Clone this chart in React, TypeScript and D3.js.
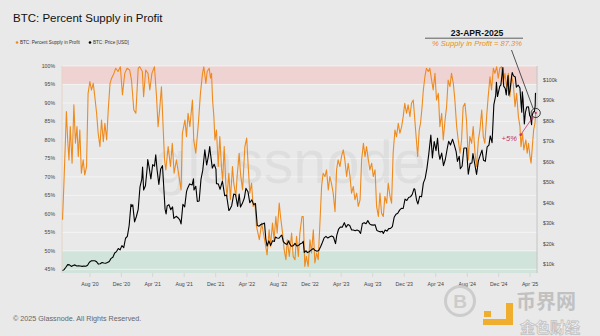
import React from 'react';
import * as d3 from 'd3';

// BTC: Percent Supply in Profit (%)
const supplyInProfit: [string, number][] = [
  ['2020-04-17', 58.4], ['2020-04-22', 67.4], ['2020-04-27', 77.3], ['2020-05-02', 87.7], ['2020-05-07', 80.0],
  ['2020-05-12', 74.6], ['2020-05-17', 83.6], ['2020-05-24', 73.7], ['2020-05-31', 89.5], ['2020-06-06', 79.1],
  ['2020-06-12', 83.6], ['2020-06-17', 75.5], ['2020-06-23', 82.7], ['2020-06-29', 71.0], ['2020-07-06', 74.6],
  ['2020-07-12', 70.5], ['2020-07-19', 72.8], ['2020-07-25', 92.6], ['2020-08-01', 95.8], ['2020-08-07', 93.5],
  ['2020-08-14', 95.3], ['2020-08-20', 91.7], ['2020-08-27', 87.2], ['2020-09-02', 81.8], ['2020-09-09', 78.2],
  ['2020-09-15', 85.4], ['2020-09-22', 79.5], ['2020-09-28', 84.5], ['2020-10-05', 80.0], ['2020-10-11', 88.1],
  ['2020-10-18', 95.3], ['2020-10-24', 96.7], ['2020-11-02', 98.0], ['2020-11-09', 99.4], ['2020-11-18', 98.5],
  ['2020-11-27', 99.8], ['2020-12-05', 92.2], ['2020-12-14', 98.0], ['2020-12-23', 99.4], ['2021-01-02', 98.9],
  ['2021-01-09', 96.2], ['2021-01-18', 88.1], ['2021-01-26', 87.2], ['2021-02-04', 99.4], ['2021-02-10', 99.8],
  ['2021-02-20', 98.5], ['2021-02-25', 91.7], ['2021-03-05', 98.9], ['2021-03-14', 98.0], ['2021-03-21', 93.5],
  ['2021-03-29', 98.0], ['2021-04-08', 99.8], ['2021-04-16', 91.7], ['2021-04-22', 83.6], ['2021-04-29', 89.0],
  ['2021-05-05', 94.4], ['2021-05-12', 82.7], ['2021-05-17', 74.6], ['2021-05-22', 71.9], ['2021-05-31', 78.2],
  ['2021-06-09', 72.8], ['2021-06-16', 79.1], ['2021-06-23', 71.0], ['2021-07-02', 74.6], ['2021-07-10', 71.0],
  ['2021-07-20', 66.5], ['2021-07-25', 81.8], ['2021-08-04', 85.4], ['2021-08-10', 80.9], ['2021-08-16', 87.2],
  ['2021-08-23', 83.6], ['2021-09-02', 90.8], ['2021-09-07', 80.0], ['2021-09-15', 76.4], ['2021-09-24', 83.6],
  ['2021-10-03', 92.6], ['2021-10-11', 98.0], ['2021-10-16', 99.8], ['2021-10-24', 95.3], ['2021-10-29', 98.5],
  ['2021-11-06', 99.4], ['2021-11-11', 96.7], ['2021-11-15', 98.0], ['2021-11-19', 90.8], ['2021-11-24', 86.3],
  ['2021-11-28', 80.0], ['2021-12-04', 82.7], ['2021-12-11', 72.8], ['2021-12-17', 80.9], ['2021-12-24', 71.9],
  ['2021-12-28', 69.2], ['2022-01-03', 78.2], ['2022-01-09', 68.3], ['2022-01-14', 64.7], ['2022-01-21', 71.0],
  ['2022-01-27', 63.8], ['2022-02-04', 72.8], ['2022-02-09', 68.3], ['2022-02-17', 64.7], ['2022-02-22', 70.1],
  ['2022-03-02', 76.4], ['2022-03-07', 71.0], ['2022-03-15', 66.5], ['2022-03-24', 78.2], ['2022-03-31', 80.5],
  ['2022-04-06', 72.8], ['2022-04-12', 65.6], ['2022-04-19', 68.3], ['2022-04-25', 62.0], ['2022-05-02', 62.9],
  ['2022-05-08', 56.6], ['2022-05-19', 53.0], ['2022-05-28', 57.5], ['2022-06-06', 53.9], ['2022-06-13', 51.2],
  ['2022-06-18', 48.9], ['2022-06-26', 55.7], ['2022-07-01', 51.2], ['2022-07-09', 57.5], ['2022-07-15', 53.0],
  ['2022-07-22', 59.3], ['2022-07-27', 54.8], ['2022-08-04', 62.9], ['2022-08-09', 59.3], ['2022-08-17', 54.8],
  ['2022-08-23', 50.3], ['2022-08-30', 47.6], ['2022-09-04', 53.0], ['2022-09-12', 48.5], ['2022-09-21', 54.8],
  ['2022-09-27', 48.5], ['2022-10-04', 47.6], ['2022-10-10', 53.9], ['2022-10-17', 48.5], ['2022-10-23', 54.8],
  ['2022-10-31', 59.3], ['2022-11-05', 59.3], ['2022-11-11', 45.8], ['2022-11-17', 48.5], ['2022-11-24', 45.8],
  ['2022-12-01', 53.0], ['2022-12-07', 49.4], ['2022-12-14', 55.7], ['2022-12-20', 46.7], ['2022-12-27', 49.4],
  ['2023-01-02', 47.6], ['2023-01-08', 56.6], ['2023-01-15', 67.4], ['2023-01-21', 71.0], ['2023-01-28', 70.1],
  ['2023-02-03', 71.9], ['2023-02-10', 66.5], ['2023-02-16', 70.1], ['2023-02-22', 68.3], ['2023-03-01', 65.6],
  ['2023-03-08', 60.6], ['2023-03-14', 71.9], ['2023-03-20', 74.6], ['2023-03-27', 72.8], ['2023-04-02', 75.5],
  ['2023-04-09', 77.3], ['2023-04-15', 74.6], ['2023-04-22', 70.1], ['2023-04-28', 73.7], ['2023-05-05', 70.1],
  ['2023-05-11', 65.6], ['2023-05-18', 67.4], ['2023-05-24', 63.8], ['2023-05-31', 65.6], ['2023-06-06', 62.0],
  ['2023-06-13', 63.8], ['2023-06-19', 74.6], ['2023-06-26', 79.1], ['2023-07-02', 75.5], ['2023-07-08', 78.2],
  ['2023-07-15', 74.6], ['2023-07-21', 71.9], ['2023-07-28', 73.7], ['2023-08-03', 70.1], ['2023-08-10', 71.9],
  ['2023-08-16', 62.0], ['2023-08-23', 59.3], ['2023-08-29', 65.6], ['2023-09-04', 60.2], ['2023-09-11', 59.3],
  ['2023-09-17', 64.7], ['2023-09-24', 62.9], ['2023-09-30', 68.3], ['2023-10-07', 64.7], ['2023-10-13', 62.9],
  ['2023-10-19', 76.4], ['2023-10-26', 82.7], ['2023-11-01', 80.9], ['2023-11-08', 84.5], ['2023-11-14', 81.8],
  ['2023-11-21', 83.6], ['2023-11-27', 86.3], ['2023-12-03', 89.9], ['2023-12-10', 87.2], ['2023-12-16', 89.5],
  ['2023-12-23', 86.3], ['2023-12-29', 89.9], ['2024-01-05', 90.8], ['2024-01-11', 85.4], ['2024-01-18', 79.1],
  ['2024-01-22', 75.5], ['2024-01-28', 82.7], ['2024-02-02', 84.5], ['2024-02-07', 88.1], ['2024-02-13', 93.5],
  ['2024-02-19', 97.1], ['2024-02-25', 99.4], ['2024-03-03', 98.5], ['2024-03-09', 99.4], ['2024-03-16', 96.2],
  ['2024-03-22', 93.5], ['2024-03-29', 98.0], ['2024-04-04', 90.8], ['2024-04-11', 92.6], ['2024-04-17', 83.6],
  ['2024-04-24', 87.2], ['2024-04-30', 80.0], ['2024-05-07', 85.4], ['2024-05-13', 89.0], ['2024-05-19', 96.2],
  ['2024-05-26', 94.4], ['2024-06-01', 98.0], ['2024-06-08', 95.3], ['2024-06-14', 90.8], ['2024-06-21', 83.6],
  ['2024-06-27', 80.0], ['2024-07-04', 76.4], ['2024-07-10', 80.0], ['2024-07-16', 89.0], ['2024-07-23', 89.9],
  ['2024-07-29', 85.4], ['2024-08-05', 74.6], ['2024-08-11', 80.9], ['2024-08-18', 79.1], ['2024-08-24', 83.6],
  ['2024-08-31', 76.4], ['2024-09-06', 72.8], ['2024-09-13', 80.0], ['2024-09-19', 82.7], ['2024-09-26', 88.1],
  ['2024-10-02', 80.9], ['2024-10-08', 79.1], ['2024-10-15', 86.3], ['2024-10-21', 91.7], ['2024-10-28', 97.1],
  ['2024-11-03', 93.5], ['2024-11-10', 99.4], ['2024-11-16', 98.0], ['2024-11-23', 99.8], ['2024-11-29', 96.7],
  ['2024-12-05', 99.4], ['2024-12-12', 99.8], ['2024-12-18', 95.3], ['2024-12-25', 98.0], ['2024-12-31', 94.4],
  ['2025-01-07', 98.0], ['2025-01-13', 91.7], ['2025-01-20', 97.1], ['2025-01-26', 95.3], ['2025-02-02', 89.0],
  ['2025-02-08', 92.6], ['2025-02-15', 86.3], ['2025-02-21', 83.6], ['2025-02-25', 78.2], ['2025-03-03', 81.8],
  ['2025-03-08', 77.3], ['2025-03-16', 80.0], ['2025-03-21', 76.4], ['2025-03-26', 79.1], ['2025-04-01', 75.5],
  ['2025-04-05', 73.7], ['2025-04-10', 78.2], ['2025-04-15', 82.7], ['2025-04-20', 84.5], ['2025-04-23', 87.3],
];

// BTC: Price [USD]
const btcPrice: [string, number][] = [
  ['2020-04-17', 7100], ['2020-04-23', 7500], ['2020-04-30', 8650], ['2020-05-07', 9950], ['2020-05-14', 9800],
  ['2020-05-21', 9050], ['2020-05-28', 9550], ['2020-06-04', 9800], ['2020-06-11', 9300], ['2020-06-18', 9400],
  ['2020-06-25', 9250], ['2020-07-02', 9100], ['2020-07-09', 9250], ['2020-07-16', 9150], ['2020-07-23', 9600],
  ['2020-07-30', 11100], ['2020-08-06', 11750], ['2020-08-13', 11800], ['2020-08-20', 11850], ['2020-08-27', 11300],
  ['2020-09-03', 10200], ['2020-09-10', 10350], ['2020-09-17', 10950], ['2020-09-24', 10750], ['2020-10-01', 10600],
  ['2020-10-08', 10930], ['2020-10-15', 11500], ['2020-10-22', 12990], ['2020-10-29', 13550], ['2020-11-05', 15600],
  ['2020-11-12', 16300], ['2020-11-19', 17800], ['2020-11-26', 17150], ['2020-12-03', 19200], ['2020-12-10', 18250],
  ['2020-12-17', 22800], ['2020-12-24', 23700], ['2020-12-31', 29000], ['2021-01-07', 39400], ['2021-01-10', 38300],
  ['2021-01-14', 39100], ['2021-01-21', 30800], ['2021-01-28', 33400], ['2021-02-04', 36900], ['2021-02-11', 47900],
  ['2021-02-18', 51600], ['2021-02-21', 57500], ['2021-02-25', 46300], ['2021-03-04', 48400], ['2021-03-11', 57300],
  ['2021-03-13', 61200], ['2021-03-18', 57700], ['2021-03-25', 51700], ['2021-04-01', 58700], ['2021-04-08', 58000],
  ['2021-04-13', 63500], ['2021-04-18', 56200], ['2021-04-25', 49000], ['2021-05-02', 56600], ['2021-05-09', 58200],
  ['2021-05-13', 49700], ['2021-05-19', 37000], ['2021-05-23', 34700], ['2021-05-27', 38500], ['2021-06-03', 39200],
  ['2021-06-10', 36700], ['2021-06-17', 38100], ['2021-06-22', 32500], ['2021-07-01', 33500], ['2021-07-08', 32800],
  ['2021-07-15', 31800], ['2021-07-20', 29800], ['2021-07-27', 39400], ['2021-08-03', 38100], ['2021-08-10', 45500],
  ['2021-08-14', 47100], ['2021-08-22', 49300], ['2021-09-01', 48800], ['2021-09-06', 51800], ['2021-09-08', 46300],
  ['2021-09-15', 48100], ['2021-09-21', 40700], ['2021-09-28', 41000], ['2021-10-05', 51500], ['2021-10-12', 56000],
  ['2021-10-20', 65900], ['2021-10-27', 58500], ['2021-11-03', 63000], ['2021-11-08', 67500], ['2021-11-10', 64900],
  ['2021-11-18', 57000], ['2021-11-25', 58900], ['2021-12-02', 56500], ['2021-12-04', 49400], ['2021-12-11', 49300],
  ['2021-12-18', 46700], ['2021-12-27', 50700], ['2022-01-05', 43500], ['2022-01-12', 43900], ['2022-01-21', 36300],
  ['2022-01-24', 36700], ['2022-02-01', 38700], ['2022-02-09', 44400], ['2022-02-16', 44000], ['2022-02-24', 38300],
  ['2022-03-02', 44400], ['2022-03-07', 38000], ['2022-03-14', 39700], ['2022-03-22', 42400], ['2022-03-28', 47100],
  ['2022-04-05', 45500], ['2022-04-12', 40100], ['2022-04-20', 41500], ['2022-04-27', 39200], ['2022-05-04', 39700],
  ['2022-05-11', 29000], ['2022-05-18', 28700], ['2022-05-25', 29500], ['2022-06-01', 29800], ['2022-06-08', 30200],
  ['2022-06-13', 22500], ['2022-06-18', 19000], ['2022-06-25', 21500], ['2022-07-02', 19300], ['2022-07-09', 21600],
  ['2022-07-16', 21200], ['2022-07-20', 23400], ['2022-07-27', 22900], ['2022-08-03', 22800], ['2022-08-10', 23900],
  ['2022-08-14', 24300], ['2022-08-20', 21200], ['2022-08-27', 20200], ['2022-09-03', 19800], ['2022-09-10', 21600],
  ['2022-09-13', 20200], ['2022-09-20', 18900], ['2022-09-27', 19100], ['2022-10-04', 20300], ['2022-10-11', 19000],
  ['2022-10-18', 19300], ['2022-10-25', 20100], ['2022-11-01', 20500], ['2022-11-05', 21300], ['2022-11-09', 15900],
  ['2022-11-16', 16700], ['2022-11-21', 15800], ['2022-11-28', 16200], ['2022-12-05', 17000], ['2022-12-14', 17800],
  ['2022-12-20', 16900], ['2022-12-28', 16500], ['2023-01-04', 16850], ['2023-01-12', 18900], ['2023-01-18', 20700],
  ['2023-01-25', 23000], ['2023-02-01', 23700], ['2023-02-08', 22900], ['2023-02-16', 23500], ['2023-02-23', 23900],
  ['2023-03-02', 23400], ['2023-03-10', 20200], ['2023-03-15', 24300], ['2023-03-22', 27300], ['2023-03-29', 28300],
  ['2023-04-05', 28200], ['2023-04-13', 30400], ['2023-04-20', 28200], ['2023-04-27', 29500], ['2023-05-04', 29000],
  ['2023-05-11', 26900], ['2023-05-18', 26800], ['2023-05-25', 26500], ['2023-06-01', 26800], ['2023-06-08', 26500],
  ['2023-06-15', 25100], ['2023-06-22', 30000], ['2023-06-29', 30400], ['2023-07-06', 29900], ['2023-07-13', 31400],
  ['2023-07-20', 29800], ['2023-07-27', 29300], ['2023-08-03', 29200], ['2023-08-10', 29400], ['2023-08-17', 26600],
  ['2023-08-24', 26200], ['2023-08-31', 25900], ['2023-09-07', 26200], ['2023-09-11', 25100], ['2023-09-18', 26800],
  ['2023-09-25', 26300], ['2023-10-02', 27500], ['2023-10-09', 27600], ['2023-10-16', 28500], ['2023-10-23', 33000],
  ['2023-10-30', 34500], ['2023-11-06', 35000], ['2023-11-13', 36500], ['2023-11-20', 37400], ['2023-11-27', 37300],
  ['2023-12-04', 41900], ['2023-12-11', 41200], ['2023-12-18', 42700], ['2023-12-25', 43000], ['2024-01-01', 44200],
  ['2024-01-08', 47000], ['2024-01-11', 46600], ['2024-01-18', 41300], ['2024-01-23', 39500], ['2024-01-30', 43300],
  ['2024-02-06', 43000], ['2024-02-13', 49700], ['2024-02-20', 52000], ['2024-02-27', 57000], ['2024-03-05', 63800],
  ['2024-03-13', 73100], ['2024-03-19', 62000], ['2024-03-26', 70000], ['2024-04-02', 65500], ['2024-04-08', 71600],
  ['2024-04-13', 64000], ['2024-04-17', 61300], ['2024-04-24', 64300], ['2024-05-01', 58200], ['2024-05-08', 61200],
  ['2024-05-15', 66200], ['2024-05-21', 70100], ['2024-05-28', 68300], ['2024-06-05', 71100], ['2024-06-12', 68200],
  ['2024-06-19', 65000], ['2024-06-24', 60300], ['2024-07-01', 62800], ['2024-07-05', 56700], ['2024-07-12', 57900],
  ['2024-07-19', 66800], ['2024-07-29', 66800], ['2024-08-05', 54000], ['2024-08-12', 59300], ['2024-08-19', 59500],
  ['2024-08-23', 64100], ['2024-08-30', 59000], ['2024-09-06', 53900], ['2024-09-13', 60500], ['2024-09-20', 63200],
  ['2024-09-27', 65800], ['2024-10-03', 60800], ['2024-10-10', 60300], ['2024-10-17', 67400], ['2024-10-24', 68200],
  ['2024-10-29', 72700], ['2024-11-05', 69400], ['2024-11-12', 88000], ['2024-11-19', 92300], ['2024-11-22', 98900],
  ['2024-11-26', 91900], ['2024-12-05', 97000], ['2024-12-09', 97500], ['2024-12-17', 106100], ['2024-12-20', 97000],
  ['2024-12-26', 95800], ['2024-12-30', 92700], ['2025-01-06', 102200], ['2025-01-09', 92500], ['2025-01-13', 94500],
  ['2025-01-20', 102000], ['2025-01-22', 103600], ['2025-01-27', 102000], ['2025-02-03', 101400], ['2025-02-07', 96500],
  ['2025-02-14', 97500], ['2025-02-21', 96100], ['2025-02-25', 88700], ['2025-02-28', 84300], ['2025-03-02', 94200],
  ['2025-03-05', 90600], ['2025-03-10', 78500], ['2025-03-14', 84000], ['2025-03-19', 86800], ['2025-03-26', 86900],
  ['2025-03-31', 82500], ['2025-04-02', 82500], ['2025-04-07', 78200], ['2025-04-09', 82600], ['2025-04-14', 84500],
  ['2025-04-18', 84500], ['2025-04-21', 87500], ['2025-04-22', 93400], ['2025-04-23', 93700],
];

const pctTicks = [45, 50, 55, 60, 65, 70, 75, 80, 85, 90, 95, 100];
const priceTicks = [10000, 20000, 30000, 40000, 50000, 60000, 70000, 80000, 90000, 100000];
const dateTicks = [
  '2020-08-01', '2020-12-01', '2021-04-01', '2021-08-01', '2021-12-01', '2022-04-01', '2022-08-01',
  '2022-12-01', '2023-04-01', '2023-08-01', '2023-12-01', '2024-04-01', '2024-08-01', '2024-12-01', '2025-04-01',
];
const highBand = [95, 100];
const lowBand = [44, 50];
const annotationDate = '2025-04-23';
const annotationValue = 87.3;
const changeFrom: [string, number] = ['2025-02-24', 81.4];

const FONT = '"Liberation Sans", Arial, Helvetica, sans-serif';
const ORANGE = '#ee8b1f';
const MAGENTA = '#c2306b';

export default function App() {
  const W = 600;
  const H = 336;
  const parse = d3.utcParse('%Y-%m-%d');
  const p = (s: string) => parse(s) as Date;
  const x = d3.scaleUtc().domain([p('2020-04-15'), p('2025-04-28')]).range([62, 537]);
  const yPct = d3.scaleLinear().domain([44, 100]).range([273, 66]);
  const yPrice = d3.scaleLinear().domain([5850, 106800]).range([273, 66]);
  const fmtDate = d3.utcFormat("%b '%y");
  const fmtPrice = (v: number) => `$${v / 1000}k`;

  const supplyLine = d3.line<[string, number]>().x(d => x(p(d[0]))).y(d => yPct(d[1]))(supplyInProfit) || '';
  const priceLine = d3.line<[string, number]>().x(d => x(p(d[0]))).y(d => yPrice(d[1]))(btcPrice) || '';

  const [x0, x1] = x.range();
  const cx = x(p(annotationDate));
  const cy = yPct(annotationValue);
  const mx = x(p(changeFrom[0]));
  const my = yPct(changeFrom[1]);
  const ang = Math.atan2(cy - my, cx - mx);
  const ax = cx - Math.cos(ang) * 4.8;
  const ay = cy - Math.sin(ang) * 4.8;

  return (
    <svg width={W} height={H} viewBox={`0 0 ${W} ${H}`}
      style={{ position: 'absolute', left: 0, top: 0, display: 'block' }} fontFamily={FONT}>
      <rect x={0} y={0} width={W} height={H} fill="#e9e9e9" />

      {/* title & legend */}
      <text x={13} y={22} fontSize={11.5} fill="#111">BTC: Percent Supply in Profit</text>
      <circle cx={17} cy={42.5} r={1.3} fill={ORANGE} />
      <text x={20} y={44.3} fontSize={4.6} fill="#333">BTC: Percent Supply in Profit</text>
      <circle cx={90} cy={42.5} r={1.3} fill="#000" />
      <text x={93} y={44.3} fontSize={4.6} fill="#333">BTC: Price [USD]</text>

      {/* bands */}
      <rect x={x0} width={x1 - x0} y={yPct(highBand[1])} height={yPct(highBand[0]) - yPct(highBand[1])} fill="#efd3d2" />
      <rect x={x0} width={x1 - x0} y={yPct(lowBand[1])} height={yPct(lowBand[0]) - yPct(lowBand[1])} fill="#d1e4dc" />

      {/* grid */}
      {pctTicks.map(t => (
        <line key={t} x1={x0} x2={x1} y1={yPct(t)} y2={yPct(t)} stroke="#f6f6f6" strokeWidth={0.8} />
      ))}
      <line x1={x0} x2={x0} y1={66} y2={273} stroke="#e3d3c6" strokeWidth={1} />
      <line x1={x1} x2={x1} y1={66} y2={273} stroke="#c4c4c4" strokeWidth={1} />

      {/* watermark */}
      <text x={290} y={183} fontSize={62} textAnchor="middle" fill="#000" fillOpacity={0.045}
        textLength={272} lengthAdjust="spacingAndGlyphs">glassnode</text>

      {/* left axis */}
      {pctTicks.map(t => (
        <text key={t} x={55} y={yPct(t) + 1.8} fontSize={5.2} textAnchor="end" fill="#444">{t}%</text>
      ))}
      {/* right axis */}
      {priceTicks.map(t => (
        <text key={t} x={543} y={yPrice(t) + 1.8} fontSize={5.2} fill="#444">{fmtPrice(t)}</text>
      ))}
      {/* x axis */}
      {dateTicks.map(t => {
        const xx = x(p(t));
        return (
          <g key={t}>
            <line x1={xx} x2={xx} y1={273} y2={277} stroke="#d2d2d2" strokeWidth={0.8} />
            <text x={xx} y={286} fontSize={5.2} textAnchor="middle" fill="#444">{fmtDate(p(t))}</text>
          </g>
        );
      })}

      {/* series */}
      <path d={supplyLine} fill="none" stroke={ORANGE} strokeWidth={1.1} strokeLinejoin="round" />
      <path d={priceLine} fill="none" stroke="#000" strokeWidth={1.1} strokeLinejoin="round" />

      {/* annotation */}
      <text x={477} y={36} fontSize={8.6} fontWeight="bold" textAnchor="middle" fill="#111">23-APR-2025</text>
      <line x1={425} x2={523} y1={38.2} y2={38.2} stroke="#222" strokeWidth={0.7} />
      <text x={477} y={46} fontSize={7.6} fontStyle="italic" textAnchor="middle" fill={ORANGE}>% Supply in Profit = 87.3%</text>
      <line x1={511.5} y1={50} x2={cx - 2.5} y2={cy - 4.2} stroke="#111" strokeWidth={0.7} />
      <circle cx={cx} cy={cy} r={4.6} fill="none" stroke="#111" strokeWidth={0.8} />
      <line x1={mx} y1={my} x2={ax} y2={ay} stroke={MAGENTA} strokeWidth={0.8} />
      <path d={`M${ax},${ay} l${-Math.cos(ang - 0.5) * 2.6},${-Math.sin(ang - 0.5) * 2.6} M${ax},${ay} l${-Math.cos(ang + 0.5) * 2.6},${-Math.sin(ang + 0.5) * 2.6}`}
        stroke={MAGENTA} strokeWidth={0.8} fill="none" />
      <circle cx={mx} cy={my} r={1.3} fill={MAGENTA} />
      <circle cx={cx} cy={cy} r={1.1} fill={MAGENTA} />
      <text x={517} y={141} fontSize={7.6} fontStyle="italic" textAnchor="end" fill={MAGENTA}>+5%</text>

      {/* copyright */}
      <text x={13} y={321} fontSize={7.2} fill="#666">© 2025 Glassnode. All Rights Reserved.</text>

      {/* site watermark */}
      <g opacity={0.9}>
        <circle cx={460} cy={301} r={14.5} fill="none" stroke="#c9c9c9" strokeWidth={3} />
        <text x={460} y={308} fontSize={19} fontWeight="bold" textAnchor="middle" fill="#c9c9c9">B</text>
        <rect x={484} y={311} width={7} height={6} fill="#f0a81a" />
        <path d="M506,303 h7 v22 h-30 v-6 h23 z" fill="#f0a81a" />
        <text x={546} y={309} fontSize={20} textAnchor="middle" fill="#bdbdbd"
          fontFamily='"Noto Sans CJK SC", sans-serif' fontWeight="bold">币界网</text>
        <text x={550} y={333} fontSize={15} textAnchor="middle" fill="#f4f4f4" stroke="#bdbdbd" strokeWidth={0.8}
          fontFamily='"Noto Sans CJK SC", sans-serif' fontWeight="bold">金色财经</text>
      </g>
    </svg>
  );
}
